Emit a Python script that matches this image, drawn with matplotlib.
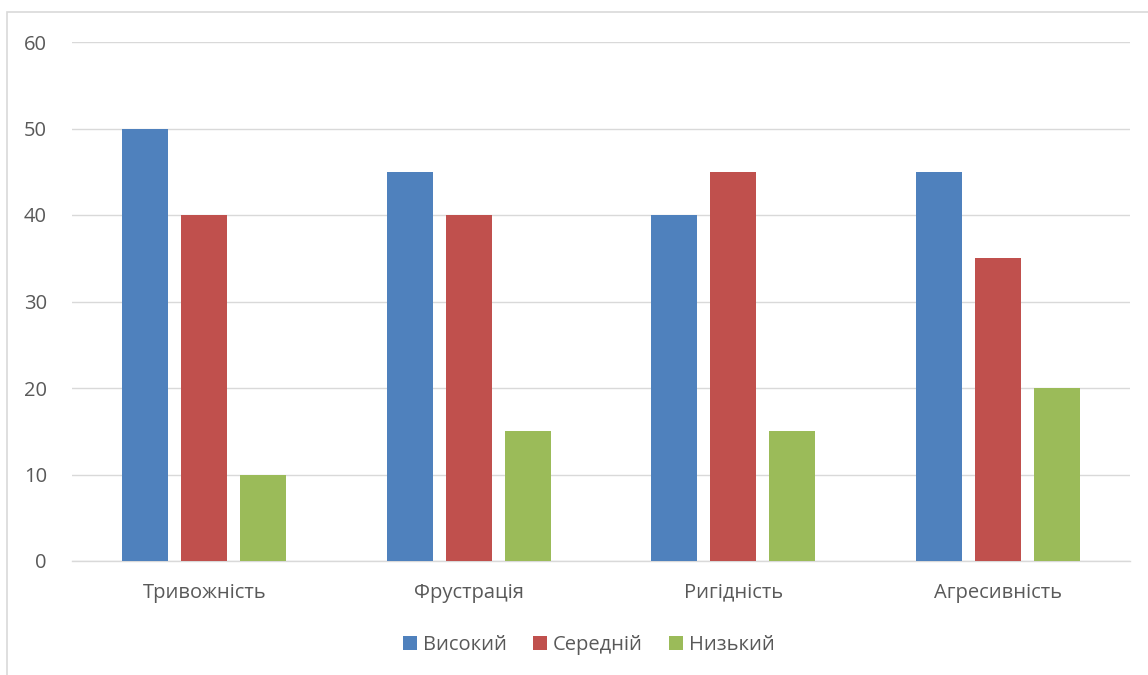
import matplotlib
matplotlib.use("Agg")
import matplotlib.pyplot as plt
import numpy as np
from matplotlib.patches import Rectangle, Patch

categories = ["Тривожність", "Фрустрація", "Ригідність", "Агресивність"]
series_names = ["Високий", "Середній", "Низький"]
high = [50, 45, 40, 45]
medium = [40, 40, 45, 35]
low = [10, 15, 15, 20]
colors = ["#4F81BD", "#C0504D", "#9BBB59"]

plt.rcParams['font.family'] = ['Open Sans', 'DejaVu Sans']
W, H = 1148, 675
fig = plt.figure(figsize=(W / 100, H / 100), dpi=100)
ax = fig.add_axes([72 / W, 1 - 561 / H, (1130 - 72) / W, (561 - 42) / H])

# chart border
fig.patches.append(Rectangle((7 / W, -0.1), 1.2, 1 - 12 / H + 0.1, transform=fig.transFigure,
                             fill=False, edgecolor="#D9D9D9", linewidth=1.2))

x = np.arange(len(categories))
bw = 0.174
off = 0.223
for i, (vals, c) in enumerate(zip([high, medium, low], colors)):
    ax.bar(x + (i - 1) * off, vals, width=bw, color=c, label=series_names[i], zorder=3)

ax.set_xlim(-0.5, 3.5)
ax.set_ylim(0, 60)
ax.set_yticks(range(0, 61, 10))
ax.grid(axis='y', color="#D9D9D9", linewidth=1.0, zorder=0)
for s in ["top", "right", "left"]:
    ax.spines[s].set_visible(False)
ax.spines["bottom"].set_color("#D9D9D9")
ax.spines["bottom"].set_linewidth(1.0)
ax.set_xticks(x)
ax.set_xticklabels(categories)
ax.tick_params(axis='both', length=0, labelsize=14.5, labelcolor="#595959")
ax.tick_params(axis='y', pad=18)
ax.tick_params(axis='x', pad=15.5)

handles = [Patch(facecolor=c) for c in colors]
fig.legend(handles, series_names, loc='center', bbox_to_anchor=(589 / W, 1 - 645 / H), ncol=3,
           frameon=False, fontsize=14.5, labelcolor="#595959", handlelength=0.7, handleheight=0.7,
           handletextpad=0.3, columnspacing=1.3)

fig.savefig("out.png", dpi=100)
